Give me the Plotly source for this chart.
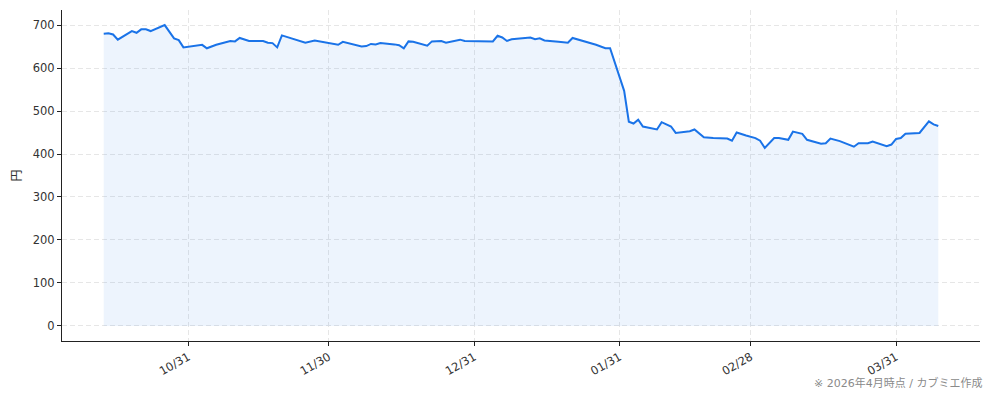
import plotly.graph_objs as go

# 株価（終値）: 日付と値
dates = [
    "2025-10-13", "2025-10-14", "2025-10-15", "2025-10-16", "2025-10-19",
    "2025-10-20", "2025-10-21", "2025-10-22", "2025-10-23", "2025-10-26",
    "2025-10-28", "2025-10-29", "2025-10-30", "2025-11-03", "2025-11-04",
    "2025-11-06", "2025-11-09", "2025-11-10", "2025-11-11", "2025-11-13",
    "2025-11-16", "2025-11-17", "2025-11-18", "2025-11-19", "2025-11-20",
    "2025-11-24", "2025-11-25", "2025-11-27", "2025-11-30", "2025-12-02",
    "2025-12-03", "2025-12-05", "2025-12-07", "2025-12-08", "2025-12-09",
    "2025-12-10", "2025-12-11", "2025-12-14", "2025-12-15", "2025-12-16",
    "2025-12-17", "2025-12-18", "2025-12-21", "2025-12-22", "2025-12-23",
    "2025-12-24", "2025-12-25", "2025-12-28", "2025-12-29", "2026-01-04",
    "2026-01-05", "2026-01-06", "2026-01-07", "2026-01-08", "2026-01-12",
    "2026-01-13", "2026-01-14", "2026-01-15", "2026-01-18", "2026-01-20",
    "2026-01-21", "2026-01-22", "2026-01-26", "2026-01-28", "2026-01-29",
    "2026-02-01", "2026-02-02", "2026-02-03", "2026-02-04", "2026-02-05",
    "2026-02-08", "2026-02-09", "2026-02-11", "2026-02-12", "2026-02-15",
    "2026-02-16", "2026-02-18", "2026-02-20", "2026-02-23", "2026-02-24",
    "2026-02-25", "2026-02-27", "2026-03-01", "2026-03-02", "2026-03-03",
    "2026-03-05", "2026-03-06", "2026-03-08", "2026-03-09", "2026-03-11",
    "2026-03-12", "2026-03-15", "2026-03-16", "2026-03-17", "2026-03-19",
    "2026-03-22", "2026-03-23", "2026-03-25", "2026-03-26", "2026-03-29",
    "2026-03-30", "2026-03-31", "2026-04-01", "2026-04-02", "2026-04-05",
    "2026-04-07", "2026-04-08", "2026-04-09",
]
prices = [
    680, 681, 678, 666, 686,
    682, 690, 690, 686, 700,
    669, 665, 648, 654, 646,
    654, 663, 662, 670, 663,
    663, 659, 658, 648, 676,
    661, 659, 664, 658, 654,
    661, 655, 650, 651, 656,
    655, 658, 655, 653, 646,
    662, 661, 652, 662, 662,
    663, 659, 666, 663, 662,
    675, 671, 663, 667, 671,
    667, 669, 664, 661, 659,
    670, 667, 654, 646, 646,
    547, 475, 471, 480, 464,
    457, 474, 464, 449, 453,
    457, 439, 437, 436, 431,
    450, 443, 437, 431, 414,
    437, 437, 433, 452, 447,
    433, 424, 425, 436, 430,
    417, 425, 425, 429, 418,
    422, 435, 437, 447, 449,
    476, 469, 465,
]

tick_dates = ["2025-10-31", "2025-11-30", "2025-12-31", "2026-01-31", "2026-02-28", "2026-03-31"]
tick_labels = ["10/31", "11/30", "12/31", "01/31", "02/28", "03/31"]
y_ticks = [0, 100, 200, 300, 400, 500, 600, 700]

line_color = "#1a73e8"
font_family = "DejaVu Sans, Noto Sans CJK JP"

data = go.Scatter(
    x=dates,
    y=prices,
    mode="lines",
    line={"color": line_color, "width": 2},
    fill="tozeroy",
    fillcolor="rgba(26,115,232,0.08)",
    hoverinfo="x+y",
)

# page body has an 8px margin, so the figure is a bit smaller than the window
layout = go.Layout(
    width=986,
    height=393,
    margin={"l": 54, "r": 14, "t": 2, "b": 60, "autoexpand": False},
    paper_bgcolor="white",
    plot_bgcolor="white",
    font={"family": font_family, "size": 11.5, "color": "#333"},
    showlegend=False,
    xaxis={
        "type": "date",
        "automargin": False,
        "range": ["2025-10-04 02:24", "2026-04-17 21:36"],
        "tickvals": tick_dates,
        "ticktext": tick_labels,
        "tickangle": -30,
        "ticks": "outside",
        "ticklen": 4,
        "tickcolor": "#222",
        "showline": True,
        "linecolor": "#222",
        "linewidth": 1,
        "showgrid": True,
        "gridcolor": "#e6e6e6",
        "griddash": "5px,3px",
        "zeroline": False,
    },
    yaxis={
        "automargin": False,
        "title": {"text": "円", "standoff": 8, "font": {"size": 12}},
        "range": [-35, 735],
        "tickvals": y_ticks,
        "ticks": "outside",
        "ticklen": 4,
        "tickcolor": "#222",
        "showline": True,
        "linecolor": "#222",
        "linewidth": 1,
        "showgrid": True,
        "gridcolor": "#e6e6e6",
        "griddash": "5px,3px",
        "zeroline": False,
    },
    annotations=[
        {
            "text": "※ 2026年4月時点 / カブミエ作成",
            "xref": "paper", "yref": "paper",
            "x": 1.0044, "y": -0.127,
            "xanchor": "right", "yanchor": "middle",
            "showarrow": False,
            "font": {"size": 11, "color": "#8a8a8a"},
        }
    ],
)

fig = go.Figure(data=[data], layout=layout)
fig.write_html("out.html")
